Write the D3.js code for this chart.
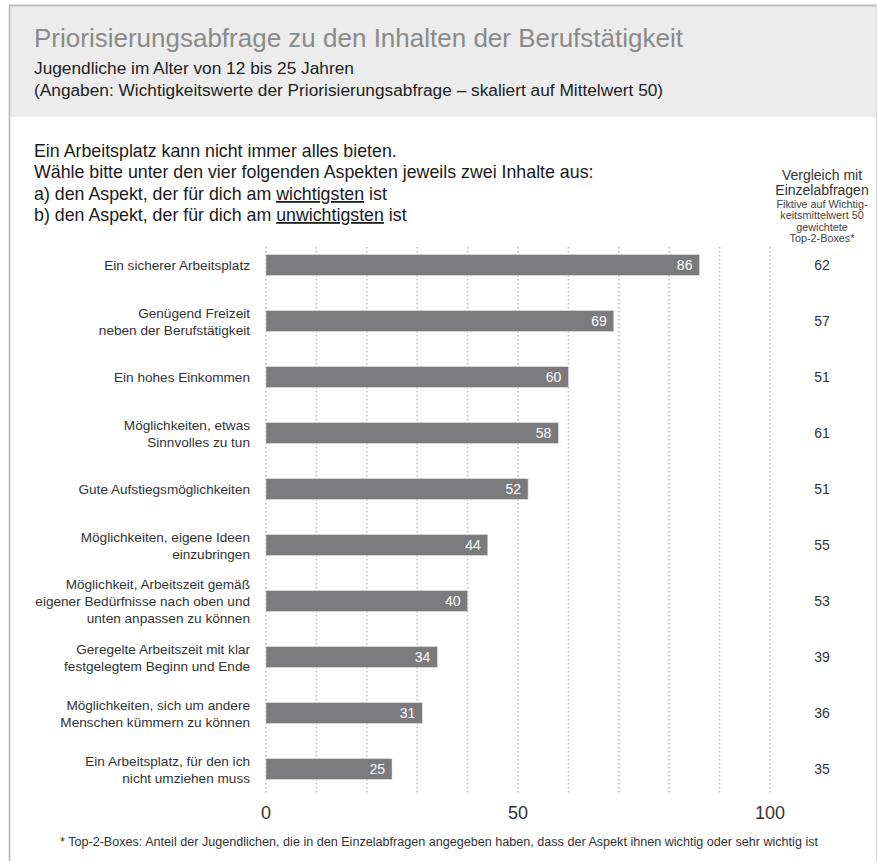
<!DOCTYPE html>
<html>
<head>
<meta charset="utf-8">
<script src="https://cdn.jsdelivr.net/npm/d3@7"></script>
<style>
  body { margin: 0; background: #fff; }
  svg text { font-family: "Liberation Sans", Arial, Helvetica, sans-serif; }
</style>
</head>
<body>
<div id="chart"></div>
<script>
const categories = [
    ["Ein sicherer Arbeitsplatz"],
    ["Genügend Freizeit", "neben der Berufstätigkeit"],
    ["Ein hohes Einkommen"],
    ["Möglichkeiten, etwas", "Sinnvolles zu tun"],
    ["Gute Aufstiegsmöglichkeiten"],
    ["Möglichkeiten, eigene Ideen", "einzubringen"],
    ["Möglichkeit, Arbeitszeit gemäß", "eigener Bedürfnisse nach oben und", "unten anpassen zu können"],
    ["Geregelte Arbeitszeit mit klar", "festgelegtem Beginn und Ende"],
    ["Möglichkeiten, sich um andere", "Menschen kümmern zu können"],
    ["Ein Arbeitsplatz, für den ich", "nicht umziehen muss"]
]
const prioValues = [86, 69, 60, 58, 52, 44, 40, 34, 31, 25]
const singleValues = [62, 57, 51, 61, 51, 55, 53, 39, 36, 35]
const tickLabels = [0, 50, 100]

const width = 877
const height = 861

const svg = d3.select("#chart").append("svg")
    .attr("width", width)
    .attr("height", height)

// frame + header
svg.append("rect")
    .attr("x", 10).attr("y", 6)
    .attr("width", 866).attr("height", 111)
    .attr("fill", "#ececec")
svg.append("line")
    .attr("x1", 9).attr("x2", 877).attr("y1", 5.5).attr("y2", 5.5)
    .attr("stroke", "#bdbdc0").attr("stroke-width", 2)
svg.append("line")
    .attr("x1", 9.5).attr("x2", 9.5).attr("y1", 5).attr("y2", height)
    .attr("stroke", "#b5b5b5").attr("stroke-width", 1.5)
svg.append("line")
    .attr("x1", 876.5).attr("x2", 876.5).attr("y1", 5).attr("y2", height)
    .attr("stroke", "#d8d8d8").attr("stroke-width", 1)

svg.append("text")
    .attr("x", 34).attr("y", 47)
    .attr("font-size", 26)
    .attr("fill", "#8a8a8a")
    .text("Priorisierungsabfrage zu den Inhalten der Berufstätigkeit")

const subs = ["Jugendliche im Alter von 12 bis 25 Jahren",
    "(Angaben: Wichtigkeitswerte der Priorisierungsabfrage – skaliert auf Mittelwert 50)"]
subs.forEach((s, i) => {
    svg.append("text")
        .attr("x", 34).attr("y", 74 + i * 22)
        .attr("font-size", 17.3)
        .attr("fill", "#222")
        .text(s)
})

// question
const q = svg.append("g").attr("font-size", 17.8).attr("fill", "#1a1a1a")
q.append("text").attr("x", 34).attr("y", 157).text("Ein Arbeitsplatz kann nicht immer alles bieten.")
q.append("text").attr("x", 34).attr("y", 178).text("Wähle bitte unter den vier folgenden Aspekten jeweils zwei Inhalte aus:")
const qa = q.append("text").attr("x", 34).attr("y", 200)
qa.append("tspan").text("a) den Aspekt, der für dich am ")
qa.append("tspan").attr("text-decoration", "underline").text("wichtigsten")
qa.append("tspan").text(" ist")
const qb = q.append("text").attr("x", 34).attr("y", 221)
qb.append("tspan").text("b) den Aspekt, der für dich am ")
qb.append("tspan").attr("text-decoration", "underline").text("unwichtigsten")
qb.append("tspan").text(" ist")

// right column header
const rx = 822
const rh = svg.append("g").attr("text-anchor", "middle").attr("fill", "#333")
rh.append("text").attr("x", rx).attr("y", 180).attr("font-size", 14).text("Vergleich mit")
rh.append("text").attr("x", rx).attr("y", 195).attr("font-size", 14).text("Einzelabfragen")
const small = ["Fiktive auf Wichtig-", "keitsmittelwert 50", "gewichtete", "Top-2-Boxes*"]
small.forEach((s, i) => {
    rh.append("text").attr("x", rx).attr("y", 207.5 + i * 11.5)
        .attr("font-size", 10.8).attr("fill", "#444").text(s)
})

// scales
const x = d3.scaleLinear().domain([0, 100]).range([266, 770])
const y = d3.scaleBand()
    .domain(d3.range(categories.length))
    .range([237, 797])
    .paddingInner(0.63)
    .paddingOuter(0.315)

// dotted gridlines
svg.append("g")
    .selectAll("line")
    .data(d3.range(0, 101, 10))
    .join("line")
    .attr("x1", d => x(d)).attr("x2", d => x(d))
    .attr("y1", 247).attr("y2", 795)
    .attr("stroke", "#bcbcbc")
    .attr("stroke-width", 1.5)
    .attr("stroke-dasharray", "1.5,2.5")

// bars
svg.append("g")
    .selectAll("rect")
    .data(prioValues)
    .join("rect")
    .attr("x", x(0))
    .attr("y", (d, i) => y(i))
    .attr("width", d => x(d) - x(0))
    .attr("height", y.bandwidth())
    .attr("fill", "#7b7b7e")
    .attr("stroke", "#d8d8d8")
    .attr("stroke-width", 0.6)

// values inside bars
svg.append("g")
    .selectAll("text")
    .data(prioValues)
    .join("text")
    .attr("x", d => x(d) - 7)
    .attr("y", (d, i) => y(i) + y.bandwidth() / 2 + 5)
    .attr("text-anchor", "end")
    .attr("font-size", 14)
    .attr("fill", "#fff")
    .text(d => d)

// category labels
const labels = svg.append("g")
    .selectAll("text")
    .data(categories)
    .join("text")
    .attr("text-anchor", "end")
    .attr("font-size", 13.6)
    .attr("fill", "#333")
labels.each(function(lines, i) {
    const cy = y(i) + y.bandwidth() / 2
    const lh = 17
    lines.forEach((l, j) => {
        d3.select(this).append("tspan")
            .attr("x", 250)
            .attr("y", cy + 5 + (j - (lines.length - 1) / 2) * lh)
            .text(l)
    })
})

// right column values
svg.append("g")
    .selectAll("text")
    .data(singleValues)
    .join("text")
    .attr("x", rx)
    .attr("y", (d, i) => y(i) + y.bandwidth() / 2 + 5)
    .attr("text-anchor", "middle")
    .attr("font-size", 14)
    .attr("fill", "#333")
    .text(d => d)

// x axis tick labels
svg.append("g")
    .selectAll("text")
    .data(tickLabels)
    .join("text")
    .attr("x", d => x(d))
    .attr("y", 819)
    .attr("text-anchor", "middle")
    .attr("font-size", 18)
    .attr("fill", "#333")
    .text(d => d)

// footnote
svg.append("text")
    .attr("x", 60).attr("y", 846)
    .attr("font-size", 12.6)
    .attr("fill", "#333")
    .text("* Top-2-Boxes: Anteil der Jugendlichen, die in den Einzelabfragen angegeben haben, dass der Aspekt ihnen wichtig oder sehr wichtig ist")
</script>
</body>
</html>
